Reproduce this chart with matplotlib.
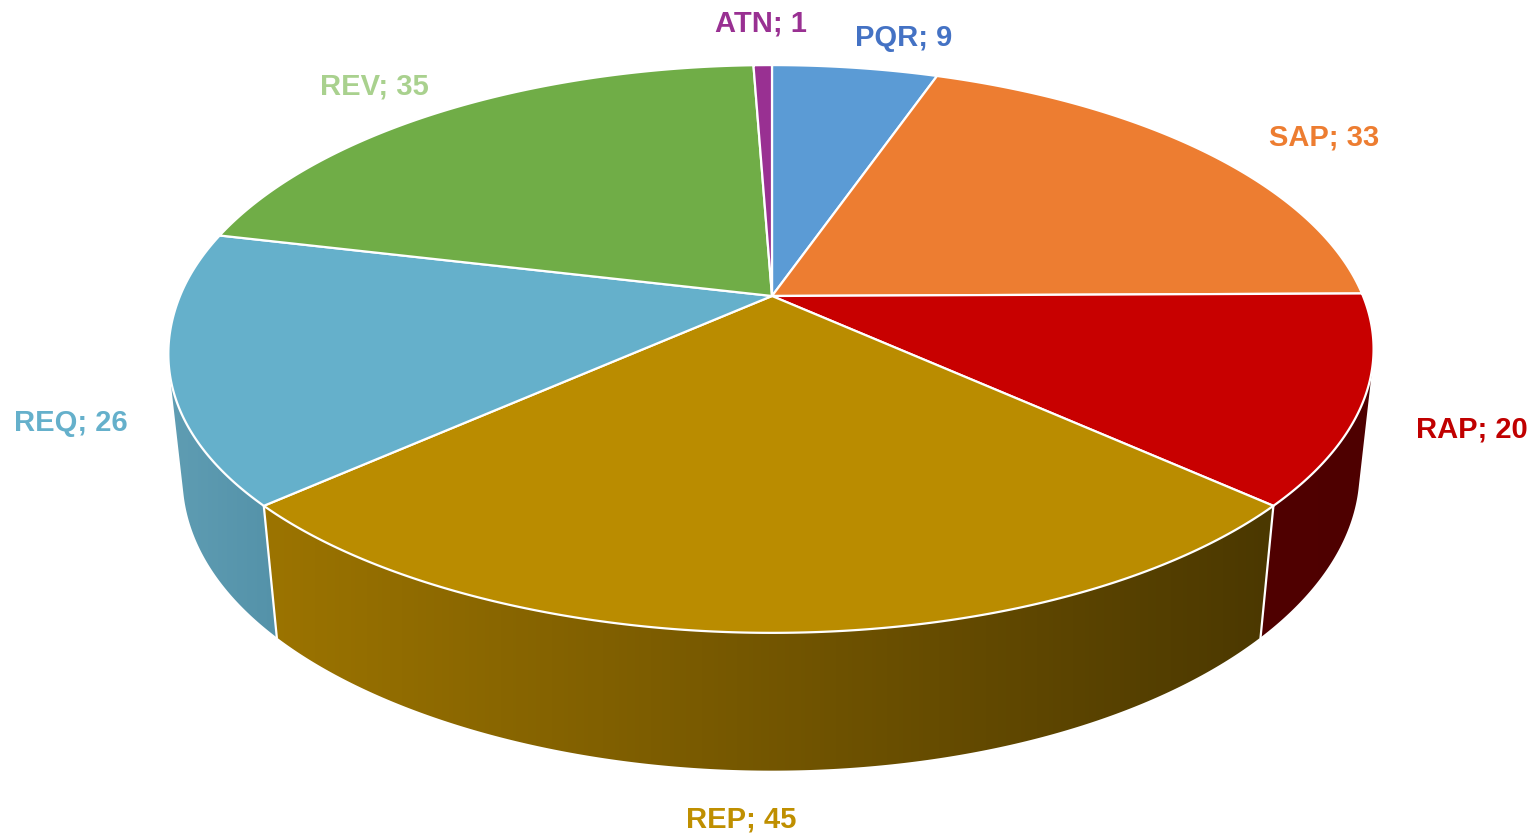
import numpy as np
import matplotlib
matplotlib.use('Agg')
import matplotlib.pyplot as plt
from matplotlib.colors import LinearSegmentedColormap
from matplotlib.patches import Polygon

names = ['PQR', 'SAP', 'RAP', 'REP', 'REQ', 'REV', 'ATN']
values = [9, 33, 20, 45, 26, 35, 1]
top_colors = ['#5B9BD5', '#ED7D31', '#C80000', '#BA8C00', '#65B0CB', '#70AD47', '#993092']
label_colors = ['#4472C4', '#ED7D31', '#C00000', '#BF8F00', '#65B0CB', '#A9D18E', '#993092']
label_x = [904, 1324, 1472, 741, 71, 374, 761]
label_y = [38, 137, 429, 820, 423, 86, 23]
# side wall gradient, left to right, only the slices that face the viewer
side_left = {'RAP': '#500000', 'REP': '#9C7400', 'REQ': '#5F9DB3'}
side_right = {'RAP': '#4E0000', 'REP': '#4B3800', 'REQ': '#5492A9'}

# perspective of the disc, fitted on the slice corners
cx, cy = 772, 296
A_right, A_left, B, C = 591, 592, 274, 123
k, m = 0.1866, 0.023
bulge = 0.012  # the lower left of the reference is a bit fuller than an ellipse


def project(theta, h):
    u, v = np.sin(theta), -np.cos(theta)
    d = 1 - k * v + m * h
    a = np.where(u < 0, A_left, A_right)
    a = a * (1 + bulge * np.sin(2 * theta) ** 2 * ((u < 0) & (v > 0)))
    return cx + a * u / d, cy + (B * v + C * h) / d


def hull(pts):
    pts = sorted(set(map(tuple, pts)))

    def half(seq):
        out = []
        for p in seq:
            while len(out) > 1 and ((out[-1][0] - out[-2][0]) * (p[1] - out[-2][1])
                                    - (out[-1][1] - out[-2][1]) * (p[0] - out[-2][0])) <= 0:
                out.pop()
            out.append(p)
        return out[:-1]

    return np.array(half(pts) + half(pts[::-1]))


plt.rcParams['font.family'] = ['Liberation Sans', 'DejaVu Sans']
fig = plt.figure(figsize=(15.31, 8.34), dpi=100)
ax = fig.add_axes([0, 0, 1, 1])

edges = np.cumsum([0] + values) / sum(values) * 2 * np.pi

# side walls first, hull so the vertical silhouette edge gets filled too
for i, name in enumerate(names):
    if name not in side_left:
        continue
    t = np.linspace(edges[i], edges[i + 1], 200)
    xt, yt = project(t, 0)
    xb, yb = project(t, 1)
    pts = hull(np.c_[np.r_[xt, xb], np.r_[yt, yb]])
    poly = Polygon(pts, closed=True, fc='none', ec='none')
    ax.add_patch(poly)
    cmap = LinearSegmentedColormap.from_list(name, [side_left[name], side_right[name]])
    grad = np.linspace(0, 1, 256).reshape(1, -1)
    im = ax.imshow(grad, cmap=cmap, aspect='auto', zorder=1,
                   extent=[pts[:, 0].min(), pts[:, 0].max(), pts[:, 1].max(), pts[:, 1].min()])
    im.set_clip_path(poly)

# imshow resets the limits
ax.set_xlim(0, 1531)
ax.set_ylim(834, 0)
ax.axis('off')

# white seams between the walls
for i, name in enumerate(names):
    if name in ('REP', 'REQ'):
        x0, y0 = project(edges[i], 0)
        x1, y1 = project(edges[i], 1)
        ax.plot([x0, x1], [y0, y1], color='white', lw=1.6, zorder=2)

# top face
for i, name in enumerate(names):
    t = np.linspace(edges[i], edges[i + 1], 200)
    xt, yt = project(t, 0)
    pts = np.c_[np.r_[cx, xt], np.r_[cy, yt]]
    ax.add_patch(Polygon(pts, closed=True, fc=top_colors[i], ec='white', lw=1.6,
                         joinstyle='round', zorder=3))

for i, name in enumerate(names):
    ax.text(label_x[i], label_y[i], '%s; %d' % (name, values[i]), color=label_colors[i],
            fontsize=21, fontweight='bold', ha='center', va='center', zorder=4)

fig.savefig('out.png', dpi=100)
